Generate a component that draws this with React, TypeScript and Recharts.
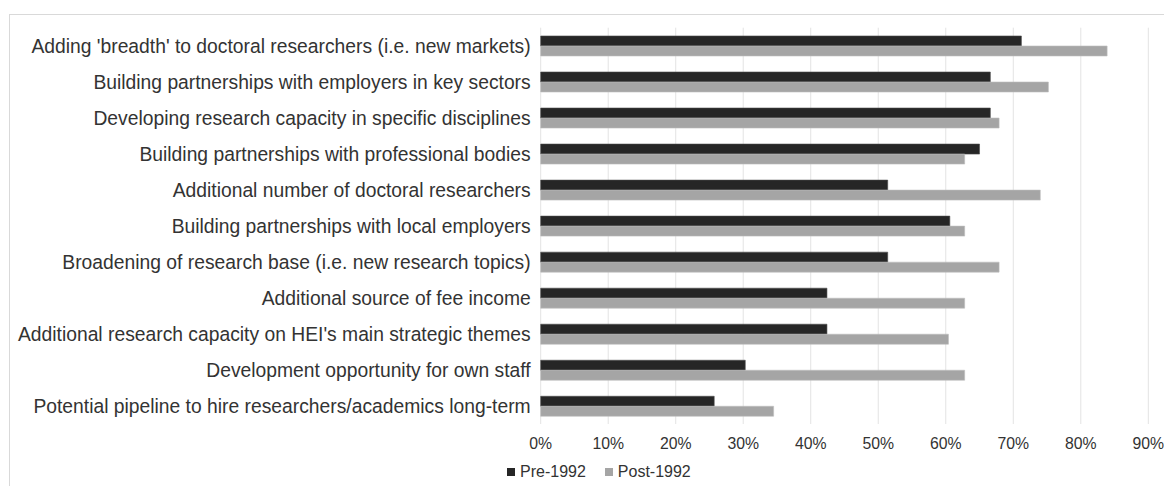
import React from "react";
import { BarChart, Bar, XAxis, YAxis, CartesianGrid } from "recharts";

const categories = [
  "Adding 'breadth' to doctoral researchers (i.e. new markets)",
  "Building partnerships with employers in key sectors",
  "Developing research capacity in specific disciplines",
  "Building partnerships with professional bodies",
  "Additional number of doctoral researchers",
  "Building partnerships with local employers",
  "Broadening of research base (i.e. new research topics)",
  "Additional source of fee income",
  "Additional research capacity on HEI's main strategic themes",
  "Development opportunity for own staff",
  "Potential pipeline to hire researchers/academics long-term",
];

const pre1992 = [0.712, 0.666, 0.666, 0.65, 0.514, 0.606, 0.514, 0.424, 0.424, 0.303, 0.257];
const post1992 = [0.839, 0.752, 0.679, 0.628, 0.74, 0.628, 0.679, 0.628, 0.604, 0.628, 0.345];

const xTicks = [0, 0.1, 0.2, 0.3, 0.4, 0.5, 0.6, 0.7, 0.8, 0.9];
const seriesNames = ["Pre-1992", "Post-1992"];
const colors = ["#262626", "#a5a5a5"];

const data = categories.map((c, i) => ({ name: c, pre: pre1992[i], post: post1992[i] }));

const FONT = "'Liberation Sans', Arial, sans-serif";
const TEXT = "#333333";

export default function App() {
  return (
    <div style={{ position: "absolute", left: 0, top: 0, width: 1164, height: 486, background: "#fff", overflow: "hidden" }}>
      <div style={{ position: "absolute", left: 9, top: 14, width: 1200, height: 520, borderLeft: "1.5px solid #d9d9d9", borderTop: "1.5px solid #d9d9d9" }} />
      <BarChart
        width={1164}
        height={486}
        data={data}
        layout="vertical"
        margin={{ top: 27.7, right: 15.7, bottom: 32, left: 0 }}
        barCategoryGap="23%"
        barGap={0}
        style={{ position: "absolute", left: 0, top: 0 }}
      >
        <CartesianGrid horizontal={false} vertical={true} stroke="#e3e3e3" strokeWidth={1} />
        <XAxis
          type="number"
          domain={[0, 0.9]}
          ticks={xTicks}
          tickFormatter={(v: number) => `${Math.round(v * 100)}%`}
          axisLine={false}
          tickLine={false}
          tickMargin={8}
          height={30}
          tick={{ fill: TEXT, fontSize: 15.8, fontFamily: FONT }}
          interval={0}
        />
        <YAxis
          type="category"
          dataKey="name"
          width={540.7}
          axisLine={false}
          tickLine={false}
          tickMargin={4}
          tick={{ fill: TEXT, fontSize: 19.3, fontFamily: FONT }}
          interval={0}
        />
        <Bar dataKey="pre" name={seriesNames[0]} fill={colors[0]} stroke="#4a4a4a" strokeWidth={0.6} isAnimationActive={false} />
        <Bar dataKey="post" name={seriesNames[1]} fill={colors[1]} stroke="#bdbdbd" strokeWidth={0.6} isAnimationActive={false} />
      </BarChart>
      <div style={{ position: "absolute", left: 507, top: 462, display: "flex", alignItems: "center", fontFamily: FONT, fontSize: 16, color: TEXT, lineHeight: "20px", whiteSpace: "nowrap" }}>
        {seriesNames.map((n, i) => (
          <div key={n} style={{ display: "flex", alignItems: "center", marginRight: i === 0 ? 19 : 0 }}>
            <span style={{ display: "inline-block", width: 8, height: 8, background: colors[i], marginRight: 5 }} />
            <span>{n}</span>
          </div>
        ))}
      </div>
    </div>
  );
}
